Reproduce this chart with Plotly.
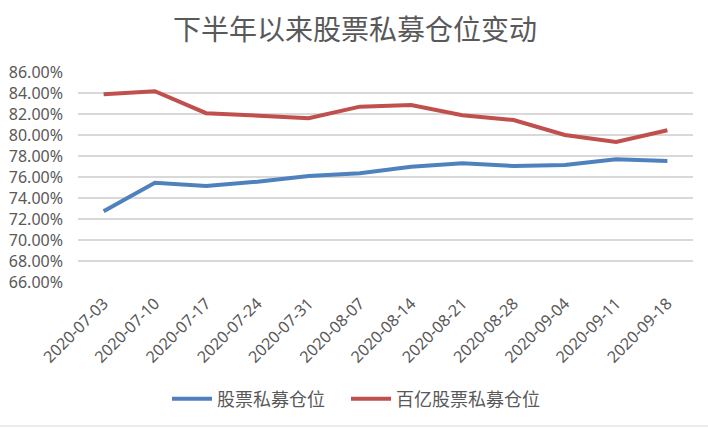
import plotly.graph_objects as go

dates = ["2020-07-03", "2020-07-10", "2020-07-17", "2020-07-24", "2020-07-31", "2020-08-07",
         "2020-08-14", "2020-08-21", "2020-08-28", "2020-09-04", "2020-09-11", "2020-09-18"]
stock_pe = [72.75, 75.45, 75.15, 75.55, 76.10, 76.35, 76.98, 77.30, 77.05, 77.15, 77.68, 77.52]
big_stock_pe = [83.88, 84.17, 82.08, 81.85, 81.60, 82.70, 82.85, 81.88, 81.42, 80.00, 79.33, 80.45]
series_names = ["股票私募仓位", "百亿股票私募仓位"]
title_text = "下半年以来股票私募仓位变动"
y_ticks = [66, 68, 70, 72, 74, 76, 78, 80, 82, 84, 86]
y_tick_labels = ["66.00%", "68.00%", "70.00%", "72.00%", "74.00%", "76.00%",
                 "78.00%", "80.00%", "82.00%", "84.00%", "86.00%"]

CJK = "Noto Sans CJK SC, Noto Sans, sans-serif"
LAT = "Noto Sans, Noto Sans CJK SC, sans-serif"
GREY = "#595959"

fig = go.Figure()
fig.add_trace(go.Scatter(x=dates, y=stock_pe, mode="lines", name=series_names[0],
                         line=dict(color="#4f81bd", width=4), legend="legend"))
fig.add_trace(go.Scatter(x=dates, y=big_stock_pe, mode="lines", name=series_names[1],
                         line=dict(color="#c0504d", width=4), legend="legend2"))

legend_common = dict(orientation="h", xref="container", yref="container",
                     xanchor="left", y=1-399/428, yanchor="middle",
                     font=dict(family=CJK, size=18, color=GREY), itemwidth=40)

fig.update_layout(
    width=708, height=428,
    margin=dict(l=78, r=15, t=72, b=146),
    paper_bgcolor="white", plot_bgcolor="white",
    title=dict(text=title_text, x=355/708, xanchor="center", xref="container",
               y=1-30/428, yanchor="middle", yref="container",
               font=dict(family=CJK, size=28, color=GREY)),
    legend=dict(x=167/708, **legend_common),
    legend2=dict(x=346/708, **legend_common),
    showlegend=True,
)
fig.update_xaxes(type="category", range=[-0.5, len(dates) - 0.5], automargin=False,
                 showgrid=False, showline=False, ticks="", ticklabelstandoff=8,
                 tickangle=-45, tickfont=dict(family=LAT, size=16, color=GREY),
                 zeroline=False)
fig.update_yaxes(range=[66, 86], tickvals=y_ticks, ticktext=y_tick_labels, automargin=False,
                 showgrid=True, gridcolor="#d9d9d9", gridwidth=1.5, zeroline=False,
                 showline=False, ticks="", ticklabelstandoff=14,
                 tickfont=dict(family=LAT, size=16, color=GREY))

fig.add_shape(type="line", xref="paper", yref="paper", x0=-0.2, x1=1.1,
              y0=-0.686, y1=-0.686, line=dict(color="#d9d9d9", width=1))

fig.write_html("out.html", config={"displayModeBar": False},
               post_script="document.body.style.margin='0';document.body.style.padding='0';")
